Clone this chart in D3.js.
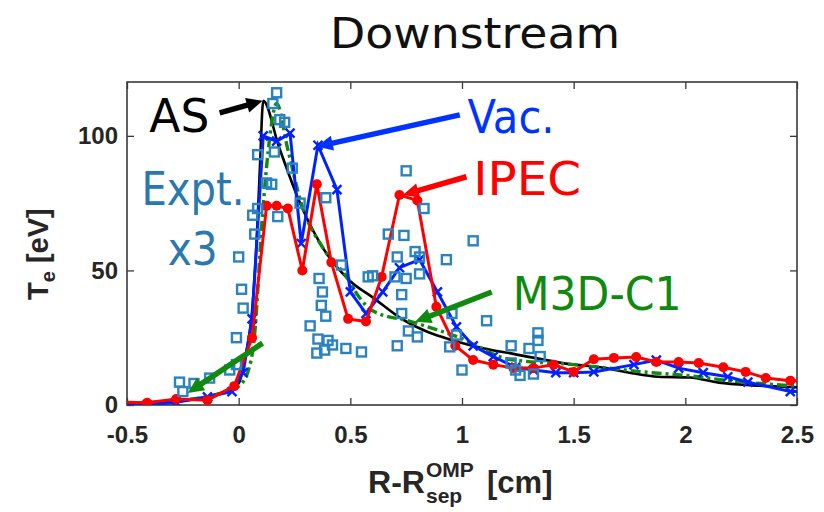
<!DOCTYPE html>
<html><head><meta charset="utf-8">
<script src="https://cdn.jsdelivr.net/npm/d3@7/dist/d3.min.js"></script>
<style>body{margin:0;background:#fff}</style></head>
<body><svg id="c" width="824" height="512"></svg>
<script>
// ---------- data ----------
const xTicks = [-0.5, 0, 0.5, 1, 1.5, 2, 2.5];
const xTickLabels = ["-0.5", "0", "0.5", "1", "1.5", "2", "2.5"];
const yTicks = [0, 50, 100];
const yTickLabels = ["0", "50", "100"];

// AS (black solid)
const asX = [-0.5, -0.3, -0.15, -0.05, 0, 0.03, 0.06, 0.08, 0.095, 0.11, 0.18, 0.28, 0.38, 0.5, 0.6, 0.73, 0.85, 0.96, 1.1, 1.23, 1.5, 1.62, 1.75, 1.88, 2.02, 2.15, 2.3, 2.47, 2.5];
const asT = [0.5, 1.2, 3, 5.5, 8, 18, 35, 60, 88, 113, 96, 74, 58, 46, 40, 32, 27, 24, 21, 19, 15, 14, 12, 10.5, 10.2, 8.3, 7.3, 6.7, 6.6];

// M3D-C1 (green dash-dot)
const m3dX = [-0.5, -0.3, -0.15, -0.05, 0, 0.04, 0.07, 0.107, 0.14, 0.17, 0.22, 0.28, 0.38, 0.48, 0.54, 0.6, 0.77, 0.99, 1.21, 1.5, 1.62, 1.85, 2.0, 2.2, 2.5];
const m3dT = [0.5, 1.5, 3, 5, 7, 12, 25, 71, 100, 112, 95, 75, 58, 48, 40, 35, 31, 25, 17, 15, 14, 12, 11, 9, 7];

// Vac. (blue, x markers)
const vacX = [-0.5, -0.41, -0.28, -0.14, -0.03, 0.02, 0.06, 0.11, 0.17, 0.23, 0.28, 0.355, 0.44, 0.5, 0.57, 0.645, 0.72, 0.81, 0.89, 0.975, 1.05, 1.14, 1.24, 1.32, 1.42, 1.5, 1.59, 1.77, 1.87, 1.97, 2.08, 2.19, 2.28, 2.47, 2.5];
const vacT = [0.5, 0, 1, 3, 5, 12, 32, 100, 98, 101, 60, 96.5, 80, 42, 34, 42, 51, 54, 42, 29, 22, 18, 14, 13, 12, 12, 12.3, 15, 16.7, 13.7, 12, 10.5, 8.5, 5, 5];
const vacMarkX = [-0.41, -0.28, -0.14, -0.03, 0.02, 0.06, 0.11, 0.17, 0.23, 0.28, 0.355, 0.44, 0.5, 0.57, 0.645, 0.72, 0.81, 0.89, 0.975, 1.05, 1.14, 1.24, 1.32, 1.42, 1.5, 1.59, 1.77, 1.87, 1.97, 2.08, 2.19, 2.28, 2.47];

// IPEC (red, dots)
const ipecX = [-0.5, -0.41, -0.28, -0.14, -0.02, 0.06, 0.125, 0.17, 0.22, 0.285, 0.35, 0.415, 0.49, 0.57, 0.64, 0.72, 0.8, 0.885, 0.97, 1.05, 1.14, 1.23, 1.32, 1.41, 1.5, 1.59, 1.68, 1.78, 1.87, 1.97, 2.06, 2.17, 2.27, 2.36, 2.47, 2.5];
const ipecT = [1, 0.8, 2.2, 1.8, 7, 25, 74, 74, 73, 50, 82, 53, 32, 31, 47.6, 78, 76, 36.5, 22, 16.7, 15, 13.7, 13.7, 15, 12.3, 17, 17.5, 17.8, 16, 16, 15.6, 14, 12.3, 10, 9, 9];

// Expt. x3 (squares)
const exptX = [-0.265, -0.25, -0.2, -0.13, -0.04, -0.01, -0.01, 0.0, 0.013, 0.02, 0.063, 0.072, 0.085, 0.085, 0.125, 0.148, 0.153, 0.16, 0.17, 0.175, 0.184, 0.206, 0.24, 0.275, 0.32, 0.355, 0.35, 0.36, 0.375, 0.37, 0.39, 0.385, 0.39, 0.4, 0.42, 0.46, 0.48, 0.55, 0.58, 0.6, 0.67, 0.71, 0.70, 0.71, 0.73, 0.73, 0.74, 0.75, 0.75, 0.76, 0.79, 0.8, 0.81, 0.81, 0.83, 0.93, 0.955, 0.975, 0.945, 1.0, 1.05, 1.11, 1.22, 1.22, 1.24, 1.26, 1.3, 1.32, 1.34, 1.34, 1.35];
const exptT = [8.5, 5, 8, 10, 13, 15, 25, 55, 43, 36, 70.5, 63.5, 73, 93, 82.5, 82, 112, 94, 116, 70, 106, 105, 88, 75, 29.4, 24.5, 19.3, 47, 42, 37, 33, 20.4, 77, 24, 22.3, 52, 21, 19.7, 47.6, 48, 63.5, 55, 47.6, 22, 41, 34, 63, 87, 47, 27.5, 57, 25.3, 55, 48.7, 73, 54, 34, 26, 21.6, 13, 61, 31.3, 22, 15.6, 13, 11, 21, 11.5, 26.8, 24, 18];

// annotations (data coordinates)
const labelText = ["AS", "Vac.", "IPEC", "Expt.", "x3", "M3D-C1"];
const labelX = [-0.4, 1.025, 1.05, -0.435, -0.318, 1.227];
const labelT = [101.5, 101, 78, 74.3, 52, 35.3];
const labelW = [60, 87, 108, 103, 50, 169];
const labelColor = ["#000000", "#0033ff", "#ff0000", "#2a78b2", "#2a78b2", "#0f8a0f"];

const arrowX0 = [-0.085, 0.99, 1.02, 1.133, 0.107];
const arrowT0 = [108.5, 107.8, 84.8, 42, 23];
const arrowX1 = [0.107, 0.35, 0.735, 0.79, -0.228];
const arrowT1 = [113, 96, 78, 30.9, 4.5];
const arrowColor = ["#000000", "#0033ff", "#ff0000", "#0f8a0f", "#0f8a0f"];

// ---------- drawing ----------
const svg = d3.select("#c");
const x = d3.scaleLinear().domain([-0.5, 2.5]).range([127, 797]);
const y = d3.scaleLinear().domain([0, 120]).range([405, 82]);
const axisColor = "#3a3a3a";
const tickFont = "'Liberation Sans', Arial, sans-serif";
const annFont = "'DejaVu Sans', sans-serif";

svg.append("defs").append("clipPath").attr("id", "clip")
  .append("rect").attr("x", 127).attr("y", 82).attr("width", 670).attr("height", 323);

// title
svg.append("text").attr("x", 330).attr("y", 48).attr("font-family", annFont)
  .attr("font-size", 42).attr("fill", "#111").attr("textLength", 290)
  .attr("lengthAdjust", "spacingAndGlyphs").text("Downstream");

// axes
const gx = svg.append("g").attr("transform", "translate(0,405)")
  .call(d3.axisBottom(x).tickValues(xTicks).tickFormat((d, i) => xTickLabels[i]).tickSize(-7).tickSizeOuter(0).tickPadding(21));
const gxt = svg.append("g").attr("transform", "translate(0,82)")
  .call(d3.axisTop(x).tickValues(xTicks).tickFormat("").tickSize(-7).tickSizeOuter(0));
const gy = svg.append("g").attr("transform", "translate(127,0)")
  .call(d3.axisLeft(y).tickValues(yTicks).tickFormat((d, i) => yTickLabels[i]).tickSize(-7).tickSizeOuter(0).tickPadding(9));
const gyr = svg.append("g").attr("transform", "translate(797,0)")
  .call(d3.axisRight(y).tickValues(yTicks).tickFormat("").tickSize(-7).tickSizeOuter(0));
[gx, gxt, gy, gyr].forEach(g => {
  g.select(".domain").remove();
  g.selectAll(".tick line").attr("stroke", axisColor).attr("stroke-width", 1.3);
  g.selectAll(".tick text").attr("font-family", tickFont).attr("font-weight", "bold")
    .attr("font-size", 24).attr("fill", "#262626");
});
svg.append("rect").attr("x", 127).attr("y", 82).attr("width", 670).attr("height", 323)
  .attr("fill", "none").attr("stroke", axisColor).attr("stroke-width", 1.6);

// x label
const xl = svg.append("g").attr("font-family", tickFont).attr("font-weight", "bold").attr("fill", "#262626");
xl.append("text").attr("x", 368).attr("y", 493).attr("font-size", 31).attr("textLength", 57).attr("lengthAdjust", "spacingAndGlyphs").text("R-R");
xl.append("text").attr("x", 426).attr("y", 477).attr("font-size", 21).text("OMP");
xl.append("text").attr("x", 426).attr("y", 503).attr("font-size", 21).text("sep");
xl.append("text").attr("x", 487).attr("y", 493).attr("font-size", 31).text("[cm]");

// y label
const yl = svg.append("text").attr("transform", "translate(48,300) rotate(-90)")
  .attr("font-family", tickFont).attr("font-weight", "bold").attr("fill", "#262626").attr("font-size", 29);
yl.append("tspan").text("T");
yl.append("tspan").attr("font-size", 20).attr("dy", 7).text("e");
yl.append("tspan").attr("dy", -7).text(" [eV]");

// series
const plot = svg.append("g").attr("clip-path", "url(#clip)");
const line = d3.line().x(d => x(d[0])).y(d => y(d[1]));
const zip = (a, b) => a.map((v, i) => [v, b[i]]);

plot.append("path").datum(zip(asX, asT)).attr("d", line.curve(d3.curveMonotoneX))
  .attr("fill", "none").attr("stroke", "#000").attr("stroke-width", 2.6);
plot.append("path").datum(zip(m3dX, m3dT)).attr("d", line.curve(d3.curveMonotoneX))
  .attr("fill", "none").attr("stroke", "#0f8a0f").attr("stroke-width", 3.4)
  .attr("stroke-dasharray", "10,4,3,4");
line.curve(d3.curveLinear);
plot.append("path").datum(zip(vacX, vacT)).attr("d", line)
  .attr("fill", "none").attr("stroke", "#0022ff").attr("stroke-width", 3);
plot.selectAll(".vm").data(vacMarkX.map(v => [v, vacT[vacX.indexOf(v)]])).join("path")
  .attr("class", "vm").attr("transform", d => `translate(${x(d[0])},${y(d[1])})`)
  .attr("d", "M-4.5,-4.5L4.5,4.5M-4.5,4.5L4.5,-4.5").attr("stroke", "#0022ff").attr("stroke-width", 2.4);
plot.append("path").datum(zip(ipecX, ipecT)).attr("d", line)
  .attr("fill", "none").attr("stroke", "#ff0000").attr("stroke-width", 3);
plot.selectAll(".rm").data(zip(ipecX, ipecT).slice(1, -1)).join("circle")
  .attr("class", "rm").attr("cx", d => x(d[0])).attr("cy", d => y(d[1])).attr("r", 5).attr("fill", "#ff0000");
plot.selectAll(".ex").data(zip(exptX, exptT)).join("rect")
  .attr("class", "ex").attr("x", d => x(d[0]) - 4.5).attr("y", d => y(d[1]) - 4.5)
  .attr("width", 9).attr("height", 9).attr("fill", "none").attr("stroke", "#2a82c0").attr("stroke-width", 2.4);

// arrows
arrowX0.forEach((_, i) => {
  const x0 = x(arrowX0[i]), y0 = y(arrowT0[i]), x1 = x(arrowX1[i]), y1 = y(arrowT1[i]);
  const ang = Math.atan2(y1 - y0, x1 - x0);
  const L = 16, W = 7.5;
  const bx = x1 - L * Math.cos(ang), by = y1 - L * Math.sin(ang);
  svg.append("line").attr("x1", x0).attr("y1", y0).attr("x2", bx + 2 * Math.cos(ang)).attr("y2", by + 2 * Math.sin(ang))
    .attr("stroke", arrowColor[i]).attr("stroke-width", 5.5);
  const p = [[x1, y1], [bx - W * Math.sin(ang), by + W * Math.cos(ang)], [bx + W * Math.sin(ang), by - W * Math.cos(ang)]];
  svg.append("polygon").attr("points", p.map(q => q.join(",")).join(" ")).attr("fill", arrowColor[i]);
});

// labels
labelText.forEach((t, i) => {
  svg.append("text").attr("x", x(labelX[i])).attr("y", y(labelT[i]))
    .attr("font-family", annFont).attr("font-size", 47).attr("fill", labelColor[i])
    .attr("textLength", labelW[i]).attr("lengthAdjust", "spacingAndGlyphs").text(t);
});
</script></body></html>
